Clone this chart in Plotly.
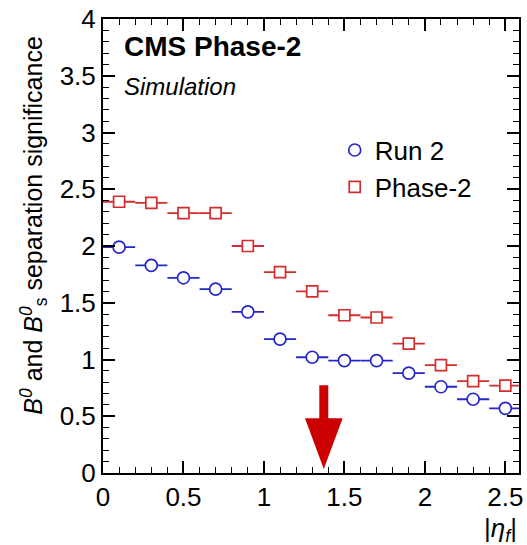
import plotly.graph_objects as go

# Data
eta_centers = [0.1, 0.3, 0.5, 0.7, 0.9, 1.1, 1.3, 1.5, 1.7, 1.9, 2.1, 2.3, 2.5]
bin_halfwidth = [0.1] * 13
run2 = [1.99, 1.83, 1.72, 1.62, 1.42, 1.18, 1.02, 0.99, 0.99, 0.88, 0.76, 0.65, 0.57]
phase2 = [2.39, 2.38, 2.29, 2.29, 2.00, 1.77, 1.60, 1.39, 1.37, 1.14, 0.95, 0.81, 0.77]
y_ticks = [0, 0.5, 1, 1.5, 2, 2.5, 3, 3.5, 4]
y_ticklabels = ["0", "0.5", "1", "1.5", "2", "2.5", "3", "3.5", "4"]
x_ticks = [0, 0.5, 1, 1.5, 2, 2.5]
x_ticklabels = ["0", "0.5", "1", "1.5", "2", "2.5"]

# Arrow marker (annotation, in data units)
ARROW_X = 1.372
ARROW_TOP = 0.774
ARROW_HEAD_BASE = 0.482
ARROW_TIP = 0.035
ARROW_SHAFT_HW = 0.028
ARROW_HEAD_HW = 0.117

BLUE = "#2626c8"
RED = "#d42c2c"
FONT = "Liberation Sans, Arial, sans-serif"

fig = go.Figure()
fig.add_trace(go.Scatter(
    x=eta_centers, y=run2, mode="markers", name="Run 2",
    marker=dict(symbol="circle", size=12, color="white", line=dict(color=BLUE, width=1.7)),
    error_x=dict(type="data", array=bin_halfwidth, symmetric=True, color=BLUE, thickness=1.8, width=0),
))
fig.add_trace(go.Scatter(
    x=eta_centers, y=phase2, mode="markers", name="Phase-2",
    marker=dict(symbol="square", size=11, color="white", line=dict(color=RED, width=1.7)),
    error_x=dict(type="data", array=bin_halfwidth, symmetric=True, color=RED, thickness=1.8, width=0),
))

a = ARROW_X
path = (f"M {a-ARROW_SHAFT_HW},{ARROW_TOP} L {a+ARROW_SHAFT_HW},{ARROW_TOP} "
        f"L {a+ARROW_SHAFT_HW},{ARROW_HEAD_BASE} L {a+ARROW_HEAD_HW},{ARROW_HEAD_BASE} "
        f"L {a},{ARROW_TIP} L {a-ARROW_HEAD_HW},{ARROW_HEAD_BASE} "
        f"L {a-ARROW_SHAFT_HW},{ARROW_HEAD_BASE} Z")
fig.add_shape(type="path", path=path, xref="x", yref="y",
              fillcolor="#cc0000", line=dict(width=0), layer="above")

axis_common = dict(
    showgrid=False, zeroline=False, showline=True, linecolor="black", linewidth=2,
    mirror="ticks", ticks="inside", ticklen=12, tickwidth=1.5, tickcolor="black",
    tickfont=dict(family=FONT, size=26, color="black"),
    minor=dict(dtick=0.1, ticks="inside", ticklen=6, tickwidth=1.2, tickcolor="black", showgrid=False),
)
fig.update_xaxes(range=[0, 2.585], tickvals=x_ticks, ticktext=x_ticklabels, **axis_common)
fig.update_yaxes(range=[0, 4], tickvals=y_ticks, ticktext=y_ticklabels, **axis_common)

fig.add_annotation(text="<b>CMS Phase-2</b>", xref="paper", yref="paper", x=0.046, y=0.94,
                   xanchor="left", yanchor="middle", showarrow=False,
                   font=dict(family=FONT, size=28, color="black"))
fig.add_annotation(text="<i>Simulation</i>", xref="paper", yref="paper", x=0.046, y=0.851,
                   xanchor="left", yanchor="middle", showarrow=False,
                   font=dict(family=FONT, size=24, color="black"))
fig.add_annotation(text="<i>B</i><sup><i>0</i></sup> and <i>B</i><sup><i>0</i></sup><sub>s</sub> separation significance",
                   xref="paper", yref="paper", x=-0.168, y=0.545, textangle=-90,
                   xanchor="center", yanchor="middle", showarrow=False,
                   font=dict(family=FONT, size=25, color="black"))
fig.add_annotation(text="|<i>η</i><sub><i>f</i></sub>|", xref="paper", yref="paper", x=1.0, y=-0.125,
                   xanchor="right", yanchor="middle", showarrow=False,
                   font=dict(family=FONT, size=26, color="black"))

fig.update_layout(
    width=527, height=545,
    margin=dict(l=103, r=4, t=17, b=72),
    paper_bgcolor="white", plot_bgcolor="white",
    showlegend=True,
    legend=dict(x=0.557, y=0.763, xanchor="left", yanchor="top",
                bgcolor="rgba(0,0,0,0)", font=dict(family=FONT, size=26, color="black"),
                itemwidth=30, tracegroupgap=0),
    font=dict(family=FONT),
)
fig.write_html("out.html")
